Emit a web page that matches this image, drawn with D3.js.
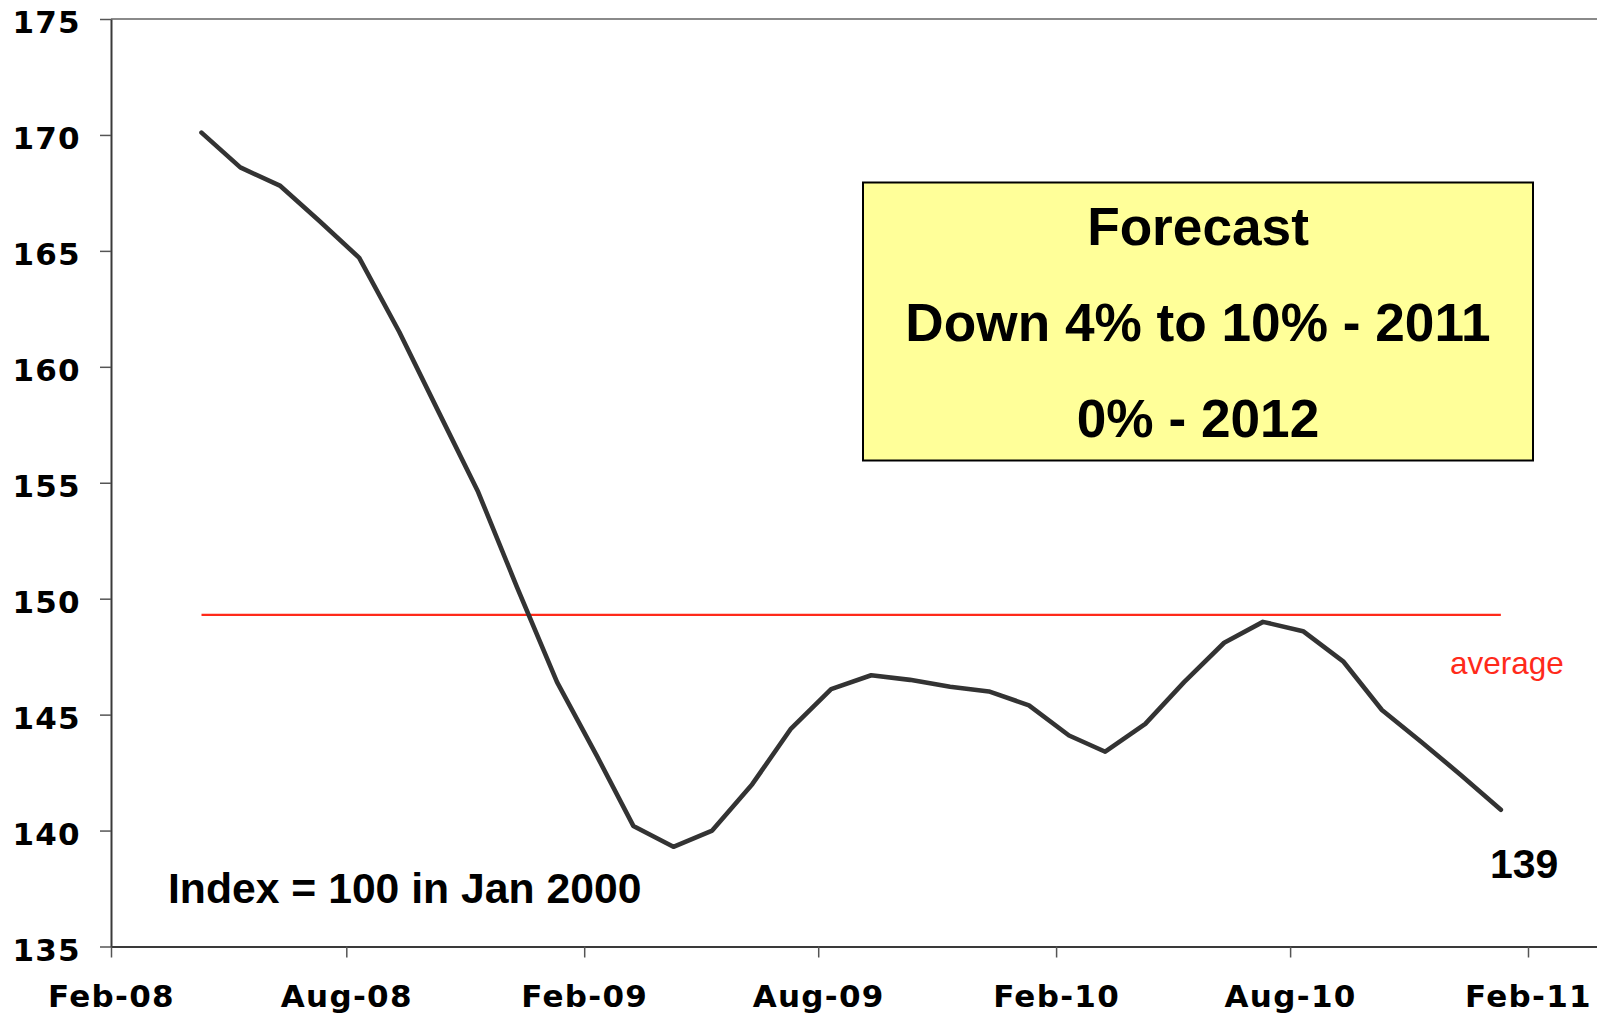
<!DOCTYPE html>
<html>
<head>
<meta charset="utf-8">
<script src="https://cdnjs.cloudflare.com/ajax/libs/d3/7.8.5/d3.min.js"></script>
<style>
  body { margin: 0; background: #fff; }
  svg { display: block; }
</style>
</head>
<body>
<svg></svg>
<script>
// monthly index values, Apr-08 .. Jan-11
const months = [
  '2008-04', '2008-05', '2008-06', '2008-07', '2008-08', '2008-09', '2008-10', '2008-11', '2008-12',
  '2009-01', '2009-02', '2009-03', '2009-04', '2009-05', '2009-06', '2009-07', '2009-08', '2009-09',
  '2009-10', '2009-11', '2009-12', '2010-01', '2010-02', '2010-03', '2010-04', '2010-05', '2010-06',
  '2010-07', '2010-08', '2010-09', '2010-10', '2010-11', '2010-12', '2011-01',
];
const values = [
  170.1, 168.6, 167.8, 166.3, 164.7, 161.5, 158.1, 154.6, 150.5,
  146.4, 143.2, 140.2, 139.3, 140.0, 142.0, 144.4, 146.1, 146.7,
  146.5, 146.2, 146.0, 145.4, 144.1, 143.4, 144.6, 146.4, 148.1,
  149.0, 148.6, 147.3, 145.2, 143.8, 142.4, 140.9,
];
const average = 149.3;

const yTicks = [135, 140, 145, 150, 155, 160, 165, 170, 175];
const xTickMonths = ['2008-02', '2008-08', '2009-02', '2009-08', '2010-02', '2010-08', '2011-02'];
const xTickLabels = ['Feb-08', 'Aug-08', 'Feb-09', 'Aug-09', 'Feb-10', 'Aug-10', 'Feb-11'];

const forecastLines = ['Forecast', 'Down 4% to 10% - 2011', '0% - 2012'];
const indexNote = 'Index = 100 in Jan 2000';
const averageLabel = 'average';
const lastLabel = '139';

// state object
const s = {
  width: 1597,
  height: 1015,
  left: 111,
  right: 1528,
  top: 19,
  bottom: 946.5,
};

const axisFont = '"DejaVu Sans", Verdana, sans-serif';
const textFont = '"Liberation Sans", Arial, sans-serif';

window.onload = () => {

  const parseMonth = d3.timeParse('%Y-%m');
  // points sit a little into each month
  const pointDate = m => d3.timeDay.offset(parseMonth(m), 10);

  const svg = d3.select('svg')
      .attr('width', s.width)
      .attr('height', s.height);

  const x = d3.scaleTime()
      .domain([parseMonth('2008-02'), parseMonth('2011-02')])
      .range([s.left, s.right]);

  // the plot area runs off the right edge of the picture
  const xAxisScale = x.copy()
      .domain([x.domain()[0], x.invert(s.width + 10)])
      .range([s.left, s.width + 10]);

  const y = d3.scaleLinear()
      .domain([135, 175])
      .range([s.bottom, s.top]);

  // top border of the plot area
  svg.append('line')
      .attr('x1', s.left)
      .attr('x2', s.width + 10)
      .attr('y1', s.top)
      .attr('y2', s.top)
      .attr('stroke', '#8a8a8a')
      .attr('stroke-width', 2);

  const yAxis = svg.append('g')
      .attr('transform', `translate(${s.left},0)`)
      .call(d3.axisLeft(y)
        .tickValues(yTicks)
        .tickSizeInner(11)
        .tickSizeOuter(0)
        .tickPadding(19));

  const xAxis = svg.append('g')
      .attr('transform', `translate(0,${s.bottom})`)
      .call(d3.axisBottom(xAxisScale)
        .tickValues(xTickMonths.map(parseMonth))
        .tickFormat((d, i) => xTickLabels[i])
        .tickSizeInner(11)
        .tickSizeOuter(0)
        .tickPadding(27));

  svg.selectAll('.domain')
      .attr('stroke', '#3a3a3a')
      .attr('stroke-width', 2);

  svg.selectAll('.tick line')
      .attr('stroke', '#555')
      .attr('stroke-width', 1.5);

  svg.selectAll('.tick text')
      .attr('font-family', axisFont)
      .attr('font-weight', 'bold')
      .attr('font-size', 31)
      .attr('letter-spacing', 1.3)
      .attr('fill', '#000');

  yAxis.selectAll('.tick text')
      .attr('dy', '0.45em');

  // average line spans the data
  svg.append('line')
      .attr('x1', x(pointDate(months[0])))
      .attr('x2', x(pointDate(months[months.length - 1])))
      .attr('y1', y(average))
      .attr('y2', y(average))
      .attr('stroke', '#ff2a1a')
      .attr('stroke-width', 2.4);

  const line = d3.line()
      .x((d, i) => x(pointDate(months[i])))
      .y(d => y(d));

  svg.append('path')
      .datum(values)
      .attr('d', line)
      .attr('fill', 'none')
      .attr('stroke', '#333')
      .attr('stroke-width', 4.6)
      .attr('stroke-linejoin', 'round')
      .attr('stroke-linecap', 'round');

  svg.append('text')
      .attr('x', 1450)
      .attr('y', 674)
      .attr('font-family', textFont)
      .attr('font-size', 31.5)
      .attr('fill', '#ff2a1a')
      .text(averageLabel);

  svg.append('text')
      .attr('x', 1490)
      .attr('y', 878)
      .attr('font-family', textFont)
      .attr('font-weight', 'bold')
      .attr('font-size', 41)
      .attr('fill', '#000')
      .text(lastLabel);

  svg.append('text')
      .attr('x', 168)
      .attr('y', 903)
      .attr('font-family', textFont)
      .attr('font-weight', 'bold')
      .attr('font-size', 42.7)
      .attr('fill', '#000')
      .text(indexNote);

  // forecast box
  const box = svg.append('g');

  box.append('rect')
      .attr('x', 863)
      .attr('y', 182.5)
      .attr('width', 670)
      .attr('height', 278)
      .attr('fill', '#ffff99')
      .attr('stroke', '#000')
      .attr('stroke-width', 2);

  box.selectAll('text')
    .data(forecastLines)
    .join('text')
      .attr('x', 1198)
      .attr('y', (d, i) => 245 + i * 96)
      .attr('text-anchor', 'middle')
      .attr('font-family', textFont)
      .attr('font-weight', 'bold')
      .attr('font-size', 53.2)
      .attr('fill', '#000')
      .text(d => d);

};
</script>
</body>
</html>
